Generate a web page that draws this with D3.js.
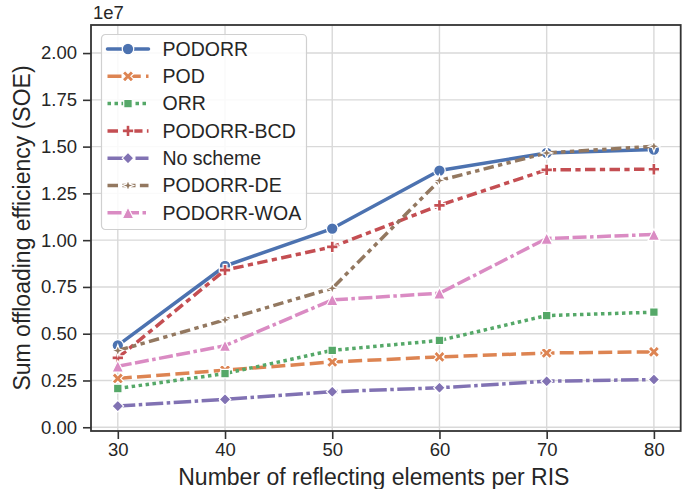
<!DOCTYPE html>
<html>
<head>
<meta charset="utf-8">
<script src="https://cdn.jsdelivr.net/npm/d3@7"></script>
<style>
  body { margin: 0; background: #fff; }
  svg { display: block; font-family: "Liberation Sans", Arial, sans-serif; }
</style>
</head>
<body>
<svg id="chart" width="686" height="489"></svg>
<script>
// Sum offloading efficiency vs number of reflecting elements

const elements = [30, 40, 50, 60, 70, 80];
const yTicks = [0, 0.25, 0.5, 0.75, 1.0, 1.25, 1.5, 1.75, 2.0];

// values in units of 1e7
const podorr     = [0.438, 0.862, 1.062, 1.372, 1.466, 1.484];
const pod        = [0.261, 0.305, 0.349, 0.376, 0.397, 0.403];
const orr        = [0.207, 0.287, 0.411, 0.464, 0.597, 0.615];
const podorrBcd  = [0.371, 0.840, 0.964, 1.186, 1.376, 1.379];
const noScheme   = [0.113, 0.149, 0.190, 0.211, 0.246, 0.255];
const podorrDe   = [0.410, 0.574, 0.743, 1.319, 1.466, 1.502];
const podorrWoa  = [0.326, 0.436, 0.681, 0.716, 1.009, 1.030];

const lw = 3.5;
const series = [
    { name: "PODORR",      values: podorr,    color: "#4c72b0", dash: null,                      marker: "circle" },
    { name: "POD",         values: pod,       color: "#dd8452", dash: [4, 1.5],                  marker: "x" },
    { name: "ORR",         values: orr,       color: "#55a868", dash: [1, 1],                    marker: "square" },
    { name: "PODORR-BCD",  values: podorrBcd, color: "#c44e52", dash: [3, 1.25, 1.5, 1.25],      marker: "plus" },
    { name: "No scheme",   values: noScheme,  color: "#8172b3", dash: [5, 1, 1, 1],              marker: "diamond" },
    { name: "PODORR-DE",   values: podorrDe,  color: "#937860", dash: [3, 1.25, 1.25, 1.25, 1.25, 1.25], marker: "star" },
    { name: "PODORR-WOA",  values: podorrWoa, color: "#da8bc3", dash: [4, 1, 4, 1, 1, 1],        marker: "triangle" }
];

const svg = d3.select("#chart");
const margin = { top: 25, right: 5.3, bottom: 58, left: 91 };
const width = 686 - margin.left - margin.right;
const height = 489 - margin.top - margin.bottom;
const textColor = "#262626";

const x = d3.scaleLinear().domain([27.5, 82.5]).range([0, width]);
const y = d3.scaleLinear().domain([-0.02, 2.15]).range([height, 0]);

const g = svg.append("g").attr("transform", `translate(${margin.left},${margin.top})`);

// grid
g.append("g").selectAll("line").data(yTicks).join("line")
    .attr("x1", 0).attr("x2", width)
    .attr("y1", d => y(d)).attr("y2", d => y(d))
    .attr("stroke", "#d9d9d9").attr("stroke-width", 1.4);
g.append("g").selectAll("line").data(elements).join("line")
    .attr("y1", 0).attr("y2", height)
    .attr("x1", d => x(d)).attr("x2", d => x(d))
    .attr("stroke", "#d9d9d9").attr("stroke-width", 1.4);

// marker shapes, ms = full size in px
const ms = 11.5;
function markerPath(type) {
    const h = ms / 2;
    let pts;
    switch (type) {
        case "circle":
            return d3.symbol(d3.symbolCircle, Math.PI * h * h)();
        case "x":
            pts = [[-1,-2],[0,-1],[1,-2],[2,-1],[1,0],[2,1],[1,2],[0,1],[-1,2],[-2,1],[-1,0],[-2,-1]].map(p => [p[0] * ms / 4, p[1] * ms / 4]);
            break;
        case "plus":
            pts = [[-1,-3],[-1,-1],[-3,-1],[-3,1],[-1,1],[-1,3],[1,3],[1,1],[3,1],[3,-1],[1,-1],[1,-3]].map(p => [p[0] * ms / 6, p[1] * ms / 6]);
            break;
        case "square": {
            const s = h * Math.SQRT1_2 * 1.05;
            pts = [[-s,-s],[s,-s],[s,s],[-s,s]];
            break;
        }
        case "diamond":
            pts = [[0,-h],[h,0],[0,h],[-h,0]];
            break;
        case "star": {
            pts = [];
            for (let i = 0; i < 8; i++) {
                const a = Math.PI / 4 * i - Math.PI / 2;
                const r = i % 2 === 0 ? h : h * 0.38;
                pts.push([r * Math.cos(a), r * Math.sin(a)]);
            }
            break;
        }
        case "triangle":
            pts = [[0,-h],[h,h],[-h,h]];
            break;
    }
    return "M" + pts.map(p => p.join(",")).join("L") + "Z";
}

const line = d3.line().x((d, i) => x(elements[i])).y(d => y(d));

series.forEach(s => {
    const sg = g.append("g");
    sg.append("path")
        .datum(s.values)
        .attr("d", line)
        .attr("fill", "none")
        .attr("stroke", s.color)
        .attr("stroke-width", lw)
        .attr("stroke-linejoin", "round")
        .attr("stroke-linecap", s.dash ? "butt" : "round")
        .attr("stroke-dasharray", s.dash ? s.dash.map(v => v * lw).join(",") : null);
    sg.selectAll("path.mk").data(s.values).join("path")
        .attr("class", "mk")
        .attr("d", markerPath(s.marker))
        .attr("transform", (d, i) => `translate(${x(elements[i])},${y(d)})`)
        .attr("fill", s.color)
        .attr("stroke", "#fff")
        .attr("stroke-width", 1.2);
});

// spines
g.append("rect")
    .attr("x", 0).attr("y", 0).attr("width", width).attr("height", height)
    .attr("fill", "none").attr("stroke", "#333").attr("stroke-width", 1.8);

// axes
const xAxis = g.append("g").attr("transform", `translate(0,${height})`)
    .call(d3.axisBottom(x).tickValues(elements).tickSize(8).tickPadding(4));
const yAxis = g.append("g")
    .call(d3.axisLeft(y).tickValues(yTicks).tickFormat(d3.format(".2f")).tickSize(8).tickPadding(6));
[xAxis, yAxis].forEach(a => {
    a.select(".domain").remove();
    a.selectAll(".tick line").attr("stroke", "#333").attr("stroke-width", 1.6);
    a.selectAll(".tick text").attr("fill", textColor).style("font-size", "18.5px");
});

// offset label
g.append("text").attr("x", 2).attr("y", -6)
    .attr("fill", textColor).style("font-size", "18.5px").text("1e7");

// axis labels
svg.append("text")
    .attr("x", margin.left + width / 2 - 12).attr("y", 485)
    .attr("text-anchor", "middle").attr("fill", textColor)
    .style("font-size", "23px")
    .text("Number of reflecting elements per RIS");
svg.append("text")
    .attr("transform", `translate(30,${margin.top + height / 2}) rotate(-90)`)
    .attr("text-anchor", "middle").attr("fill", textColor)
    .style("font-size", "23px")
    .text("Sum offloading efficiency (SOE)");

// legend
const lg = svg.append("g").attr("transform", "translate(101.5,34.5)");
lg.append("rect")
    .attr("width", 205).attr("height", 195).attr("rx", 4)
    .attr("fill", "#fff").attr("fill-opacity", 0.85)
    .attr("stroke", "#d0d0d0").attr("stroke-width", 1.2);
series.forEach((s, i) => {
    const yy = 14.5 + i * 27.3;
    const row = lg.append("g").attr("transform", `translate(0,${yy})`);
    row.append("line")
        .attr("x1", 6).attr("x2", 47).attr("y1", 0).attr("y2", 0)
        .attr("stroke", s.color).attr("stroke-width", lw)
        .attr("stroke-linecap", s.dash ? "butt" : "round")
        .attr("stroke-dasharray", s.dash ? s.dash.map(v => v * lw).join(",") : null);
    row.append("path")
        .attr("d", markerPath(s.marker))
        .attr("transform", "translate(26.5,0)")
        .attr("fill", s.color).attr("stroke", "#fff").attr("stroke-width", 1.2);
    row.append("text")
        .attr("x", 61).attr("y", 0).attr("dy", "0.35em")
        .attr("fill", textColor).style("font-size", "19.5px")
        .text(s.name);
});
</script>
</body>
</html>
